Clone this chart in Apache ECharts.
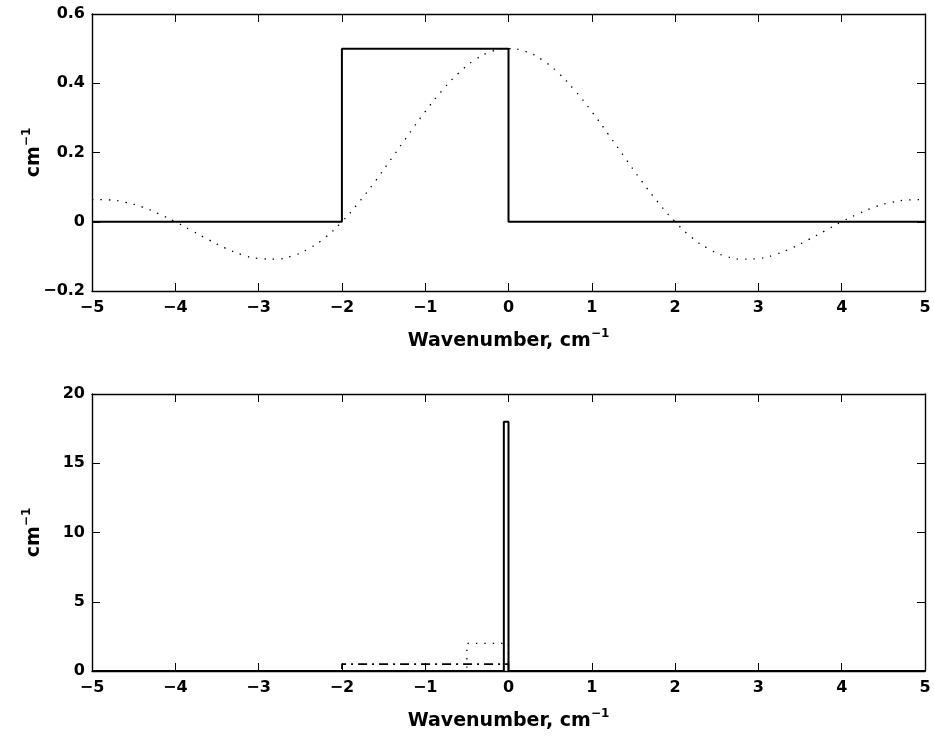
<!DOCTYPE html>
<html>
<head>
<meta charset="utf-8">
<script src="https://cdn.jsdelivr.net/npm/echarts@6/dist/echarts.min.js"></script>
<style>
    html, body { margin: 0; padding: 0; background: #fff; }
    #chart { width: 934px; height: 744px; }
</style>
</head>
<body>
<div id="chart"></div>
<script>
// top panel: rectangle and its transform (dotted)
const rectX = [-5, -2, -2, 0, 0, 5];
const rectY = [0, 0, 0.5, 0.5, 0, 0];
const sincX = [-5, -4.8, -4.6, -4.4, -4.2, -4, -3.8, -3.6, -3.4, -3.2, -3, -2.8, -2.6, -2.4, -2.2, -2,
    -1.8, -1.6, -1.4, -1.2, -1, -0.8, -0.6, -0.4, -0.2, 0, 0.2, 0.4, 0.6, 0.8, 1, 1.2, 1.4, 1.6, 1.8, 2,
    2.2, 2.4, 2.6, 2.8, 3, 3.2, 3.4, 3.6, 3.8, 4, 4.2, 4.4, 4.6, 4.8, 5];
const sincY = [0.064, 0.063, 0.056, 0.043, 0.023, 0, -0.026, -0.052, -0.076, -0.095, -0.106, -0.108, -0.099, -0.078, -0.045, 0,
    0.055, 0.117, 0.184, 0.252, 0.318, 0.378, 0.429, 0.468, 0.492, 0.5, 0.492, 0.468, 0.429, 0.378, 0.318, 0.252, 0.184, 0.117, 0.055, 0,
    -0.045, -0.078, -0.099, -0.108, -0.106, -0.095, -0.076, -0.052, -0.026, 0, 0.023, 0.043, 0.056, 0.063, 0.064];

// bottom panel: three pulses of unit area
const narrowX = [-5, -0.056, -0.056, 0, 0, 5];
const narrowY = [0, 0, 18, 18, 0, 0];
const midX = [-5, -0.5, -0.5, 0, 0, 5];
const midY = [0, 0, 2, 2, 0, 0];
const wideX = [-5, -2, -2, 0, 0, 5];
const wideY = [0, 0, 0.5, 0.5, 0, 0];

const xTicks = [-5, 5, 1];
const topYTicks = [-0.2, 0.6, 0.2];
const botYTicks = [0, 20, 5];

function pairs(xs, ys) {
    return xs.map((x, i) => [x, ys[i]]);
}

const font = 'DejaVu Sans';
const minus = v => String(+v.toFixed(2)).replace('-', '\u2212');

const nameRich = {
    b: { fontSize: 19, fontWeight: 'bold', fontFamily: font, color: '#000', lineHeight: 26 },
    s: { fontSize: 12, fontWeight: 'bold', fontFamily: font, color: '#000', lineHeight: 12, verticalAlign: 'top' }
};

function xAxisFor(grid, pos) {
    const main = pos === 'bottom';
    return {
        type: 'value', gridIndex: grid, position: pos,
        min: xTicks[0], max: xTicks[1], interval: xTicks[2],
        axisLine: { show: true, onZero: false, lineStyle: { color: '#000', width: 1.4 } },
        axisTick: { show: true, inside: true, length: 8, lineStyle: { color: '#000', width: 1 } },
        splitLine: { show: false },
        axisLabel: { show: main, formatter: minus, color: '#000', fontSize: 16, fontWeight: 'bold', fontFamily: font, margin: 9 },
        name: main ? '{b|Wavenumber, cm}{s|\u22121}' : '',
        nameLocation: 'middle', nameGap: 37, nameMoveOverlap: false,
        nameTextStyle: { rich: nameRich }
    };
}

function yAxisFor(grid, pos, ticks) {
    const main = pos === 'left';
    return {
        type: 'value', gridIndex: grid, position: pos,
        min: ticks[0], max: ticks[1], interval: ticks[2],
        axisLine: { show: true, onZero: false, lineStyle: { color: '#000', width: 1.4 } },
        axisTick: { show: true, inside: true, length: 8, lineStyle: { color: '#000', width: 1 } },
        splitLine: { show: false },
        axisLabel: { show: main, formatter: minus, color: '#000', fontSize: 16, fontWeight: 'bold', fontFamily: font, margin: 7 },
        name: main ? '{b|cm}{s|\u22121}' : '',
        nameLocation: 'middle', nameGap: 45, nameMoveOverlap: false,
        nameTextStyle: { rich: nameRich }
    };
}

function line(data, xi, yi, type, width, smooth) {
    return {
        type: 'line', xAxisIndex: xi, yAxisIndex: yi, data: data,
        showSymbol: false, smooth: !!smooth, animation: false,
        lineStyle: { color: '#000', width: width, type: type }
    };
}

const chart = echarts.init(document.getElementById('chart'));
chart.setOption({
    backgroundColor: '#fff',
    animation: false,
    grid: [
        { left: 92, right: 9, top: 14, height: 277 },
        { left: 92, right: 9, top: 394, height: 277 }
    ],
    xAxis: [xAxisFor(0, 'bottom'), xAxisFor(0, 'top'), xAxisFor(1, 'bottom'), xAxisFor(1, 'top')],
    yAxis: [yAxisFor(0, 'left', topYTicks), yAxisFor(0, 'right', topYTicks),
            yAxisFor(1, 'left', botYTicks), yAxisFor(1, 'right', botYTicks)],
    series: [
        line(pairs(sincX, sincY), 0, 0, [1.4, 7], 1.3, true),
        line(pairs(rectX, rectY), 0, 0, 'solid', 2),
        line(pairs(wideX, wideY), 2, 2, [9, 5, 2, 5], 1.6),
        line(pairs(midX, midY), 2, 2, [1.4, 7], 1.3),
        line(pairs(narrowX, narrowY), 2, 2, 'solid', 2)
    ]
});
</script>
</body>
</html>
